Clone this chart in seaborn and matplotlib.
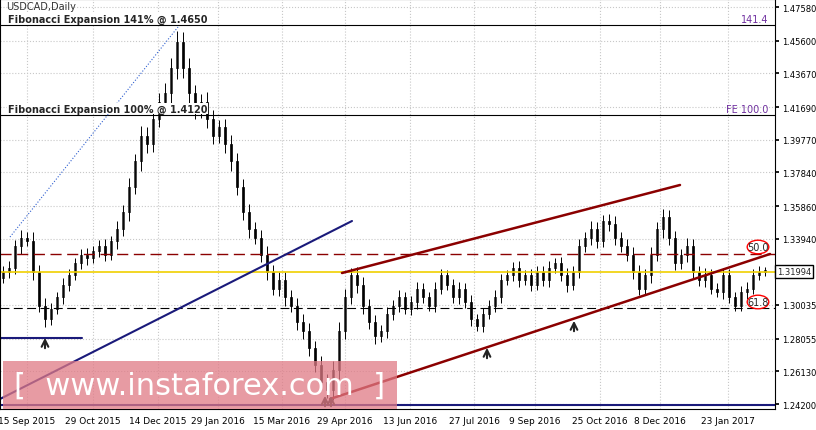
import matplotlib
matplotlib.use("Agg")
import matplotlib.pyplot as plt
import seaborn as sns
import numpy as np
from matplotlib.patches import Rectangle, Ellipse

sns.set_theme(style="white")
plt.rcParams['font.family'] = ['DejaVu Sans']

closes = [1.320,1.322,1.335,1.340,1.338,1.320,1.300,1.292,1.298,1.305,1.312,1.318,1.325,1.330,1.328,1.332,
          1.335,1.330,1.338,1.345,1.355,1.370,1.385,1.400,1.395,1.410,1.420,1.425,1.440,1.455,1.440,1.425,
          1.415,1.420,1.410,1.400,1.405,1.395,1.385,1.370,1.355,1.345,1.340,1.330,1.320,1.310,1.315,1.305,
          1.300,1.290,1.285,1.275,1.265,1.255,1.250,1.262,1.285,1.305,1.318,1.312,1.300,1.290,1.282,1.285,
          1.295,1.300,1.305,1.298,1.302,1.310,1.305,1.300,1.310,1.318,1.312,1.305,1.310,1.302,1.292,1.288,
          1.295,1.300,1.305,1.315,1.318,1.322,1.315,1.318,1.312,1.320,1.315,1.322,1.325,1.318,1.312,1.320,
          1.335,1.340,1.345,1.338,1.350,1.348,1.340,1.335,1.330,1.320,1.310,1.318,1.330,1.345,1.352,1.340,
          1.325,1.330,1.335,1.320,1.315,1.318,1.310,1.308,1.318,1.305,1.300,1.308,1.310,1.318,1.320,1.320]
wicks = [0.006,0.008,0.007,0.009,0.006,0.010,0.008,0.009,0.007,0.006,0.008,0.007,0.006,0.007,0.008,0.006,
         0.007,0.008,0.006,0.009,0.008,0.010,0.009,0.011,0.010,0.009,0.010,0.012,0.011,0.013,0.012,0.011,
         0.010,0.009,0.011,0.010,0.009,0.010,0.011,0.010,0.009,0.010,0.008,0.009,0.010,0.008,0.009,0.010,
         0.008,0.009,0.010,0.009,0.008,0.010,0.009,0.011,0.010,0.009,0.008,0.009,0.010,0.008,0.009,0.007,
         0.008,0.007,0.008,0.006,0.007,0.008,0.007,0.006,0.008,0.007,0.006,0.007,0.008,0.007,0.008,0.006,
         0.007,0.006,0.008,0.007,0.006,0.007,0.008,0.006,0.007,0.006,0.007,0.008,0.006,0.007,0.008,0.006,
         0.008,0.007,0.009,0.008,0.007,0.008,0.009,0.007,0.008,0.009,0.008,0.007,0.009,0.008,0.010,0.009,
         0.008,0.007,0.009,0.008,0.007,0.008,0.007,0.006,0.008,0.007,0.006,0.007,0.008,0.007,0.006,0.005]
date_labels = ["15 Sep 2015","29 Oct 2015","14 Dec 2015","29 Jan 2016","15 Mar 2016","29 Apr 2016",
               "13 Jun 2016","27 Jul 2016","9 Sep 2016","25 Oct 2016","8 Dec 2016","23 Jan 2017"]
date_px = [27,93,158,218,282,345,410,474,535,600,660,728]
price_ticks = [1.47580,1.45600,1.43670,1.41690,1.39770,1.37840,1.35860,1.33940,1.30035,1.28055,1.26130,1.24200]
current = 1.31994

def px2i(p): return (p-3)/6.0
def y2p(y): return 1.4758-(y-8)*(0.2338/397)

fig = plt.figure(figsize=(8.16,4.31), dpi=100)
fig.patch.set_facecolor("white")
ax = fig.add_axes([0, 21/431, 775/816, 410/431])
ax.set_facecolor("white")
n = len(closes)
opens = [closes[0]-0.004] + closes[:-1]
for i in range(n):
    o, c = opens[i], closes[i]
    hi = max(o,c)+wicks[i]*0.5; lo = min(o,c)-wicks[i]*0.5
    ax.vlines(i, lo, hi, color="black", lw=0.7)
    ax.add_patch(Rectangle((i-0.22, min(o,c)), 0.44, max(abs(c-o),0.0008),
                 facecolor="white" if c>=o else "black", edgecolor="black", lw=0.5))
xmax = px2i(775)
ax.set_xlim(px2i(0), xmax); ax.set_ylim(y2p(410), y2p(0))
for p in date_px: ax.axvline(px2i(p), color="#c8c8c8", ls=":", lw=0.8, zorder=0)
for t in price_ticks: ax.axhline(t, color="#c8c8c8", ls=":", lw=0.8, zorder=0)
ax.axhline(1.4650, color="black", lw=0.8); ax.axhline(1.4120, color="black", lw=0.8)
bb = dict(facecolor="white", edgecolor="none", pad=0.5)
ax.text(px2i(8), 1.4650+0.001, "Fibonacci Expansion 141% @ 1.4650", fontsize=7, fontweight="bold", va="bottom", bbox=bb, zorder=6)
ax.text(px2i(8), 1.4120+0.001, "Fibonacci Expansion 100% @ 1.4120", fontsize=7, fontweight="bold", va="bottom", bbox=bb, zorder=6)
ax.text(px2i(768), 1.4650+0.001, "141.4", fontsize=7, color="#7030a0", ha="right", va="bottom")
ax.text(px2i(768), 1.4120+0.001, "FE 100.0", fontsize=7, color="#7030a0", ha="right", va="bottom")
ax.axhline(current, color="#f0d000", lw=1.2)
ax.axhline(y2p(255), color="#8b0000", ls=(0,(8,4)), lw=1)
ax.axhline(y2p(309), color="black", ls=(0,(8,4)), lw=0.8)
ax.plot([px2i(0), px2i(352)], [y2p(400), y2p(222)], color="#1a1a7a", lw=1.5)
ax.plot([px2i(0), px2i(82)], [y2p(339)]*2, color="#1a1a7a", lw=1.5)
ax.axhline(y2p(406), color="#1a1a7a", lw=1.5)
ax.plot([px2i(10), px2i(178)], [y2p(238), y2p(28)], color="#3060d0", ls=":", lw=0.8)
ax.plot([px2i(342), px2i(680)], [y2p(274), y2p(186)], color="#8b0000", lw=1.8)
ax.plot([px2i(330), px2i(770)], [y2p(400), y2p(255)], color="#8b0000", lw=1.8)
for x, y in [(45,352),(487,362),(574,335),(325,410),(331,410)]:
    ax.annotate("", xy=(px2i(x), y2p(y-16)), xytext=(px2i(x), y2p(y)),
                arrowprops=dict(arrowstyle="->", color="#222222", lw=1.5))
for lab, y in [("50.0",248),("61.8",303)]:
    ax.add_patch(Ellipse((px2i(758), y2p(y)), 3.6, 0.008, facecolor="white", edgecolor="red", lw=1, zorder=5))
    ax.text(px2i(758), y2p(y), lab, fontsize=7, ha="center", va="center", zorder=6)
ax.add_patch(Rectangle((px2i(3), y2p(410)), px2i(397)-px2i(3), y2p(362)-y2p(410),
             facecolor="#e07a85", alpha=0.75, edgecolor="none", zorder=4))
ax.text(px2i(200), y2p(386), "[  www.instaforex.com  ]", fontsize=22, color="white", ha="center", va="center", zorder=5)
ax.text(px2i(6), y2p(7), "USDCAD,Daily", fontsize=7, va="center", color="#333333")
ax.set_xticks([px2i(p) for p in date_px]); ax.set_xticklabels(date_labels, fontsize=6.5)
ax.yaxis.tick_right()
ax.set_yticks(price_ticks); ax.set_yticklabels([f"{t:.5f}" for t in price_ticks], fontsize=6)
ax.tick_params(axis="both", length=3, pad=2, colors="black")
ax.text(xmax+0.3, current, f"{current:.5f}", fontsize=6, va="center", ha="left",
        bbox=dict(facecolor="white", edgecolor="black", pad=1.2), clip_on=False)
for s in ax.spines.values(): s.set_color("black"); s.set_linewidth(0.8)
fig.savefig("out.png", dpi=100)
